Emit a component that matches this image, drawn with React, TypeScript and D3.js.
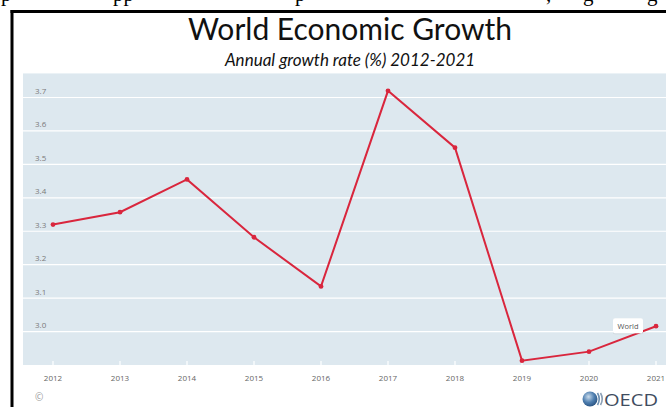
import React from "react";
import * as d3 from "d3";

const years: number[] = [2012, 2013, 2014, 2015, 2016, 2017, 2018, 2019, 2020, 2021];
const growth: number[] = [3.32, 3.357, 3.455, 3.282, 3.135, 3.72, 3.55, 2.913, 2.94, 3.016];
const yTicks: number[] = [3.0, 3.1, 3.2, 3.3, 3.4, 3.5, 3.6, 3.7];
const title = "World Economic Growth";
const subtitle = "Annual growth rate (%) 2012-2021";
const seriesName = "World";
const topFragments: { t: string; x: number }[] = [
  { t: "p", x: 1 },
  { t: "pp", x: 113 },
  { t: "p", x: 295 },
  { t: ",", x: 546 },
  { t: "g", x: 583 },
  { t: "g", x: 647 },
];

const W = 666;
const H = 407;

export default function App() {
  const x = d3.scaleLinear().domain([2012, 2021]).range([53, 656]);
  const y = d3.scaleLinear().domain([2.9, 3.7]).range([365, 97.5]);
  const plotTop = y(3.772);
  const plotBottom = y(2.9);
  const plotLeft = 23;
  const line = d3
    .line<number>()
    .x((_, i) => x(years[i]))
    .y((d) => y(d));
  const red = "#d9263d";
  const last = growth.length - 1;

  return (
    <svg
      width={W}
      height={H}
      style={{ position: "absolute", left: 0, top: 0, background: "#fff" }}
    >
      <defs>
        <radialGradient id="globe" cx="40%" cy="35%" r="70%">
          <stop offset="0%" stopColor="#c9dbeb" />
          <stop offset="55%" stopColor="#4f7fb0" />
          <stop offset="100%" stopColor="#27507e" />
        </radialGradient>
        <filter id="sh" x="-20%" y="-20%" width="140%" height="160%">
          <feDropShadow dx="0" dy="0.5" stdDeviation="0.6" floodColor="#000" floodOpacity="0.2" />
        </filter>
      </defs>
      <rect x={0} y={0} width={W} height={H} fill="#fff" />
      {topFragments.map((f, i) => (
        <text key={i} x={f.x} y={0.5} fontFamily="'Liberation Serif', serif" fontSize={21} fill="#000">
          {f.t}
        </text>
      ))}
      {/* document frame */}
      <line x1={10.5} y1={11.5} x2={W} y2={11.5} stroke="#000" strokeWidth={3} />
      <line x1={12} y1={10} x2={12} y2={H} stroke="#000" strokeWidth={3} />

      <text
        x={350}
        y={40}
        textAnchor="middle"
        fontFamily="Lato, 'Open Sans', sans-serif"
        fontSize={30}
        fill="#111"
      >
        {title}
      </text>
      <text
        x={350}
        y={66}
        textAnchor="middle"
        fontFamily="Lato, 'Open Sans', sans-serif"
        fontStyle="italic"
        fontSize={17}
        fill="#111"
      >
        {subtitle}
      </text>

      <rect x={plotLeft} y={plotTop} width={W - plotLeft} height={plotBottom - plotTop} fill="#dde8ef" />
      {yTicks.map((t) => (
        <g key={t}>
          <line x1={plotLeft} x2={W} y1={y(t)} y2={y(t)} stroke="#fff" strokeWidth={1.2} />
          <text
            x={35}
            y={y(t) - 3.5}
            fontFamily="'Open Sans', sans-serif"
            fontSize={8}
            fill="#7a7a7a"
          >
            {t.toFixed(1)}
          </text>
        </g>
      ))}
      {years.map((yr) => (
        <g key={yr}>
          <line x1={x(yr)} x2={x(yr)} y1={plotBottom - 4} y2={plotBottom} stroke="#fff" strokeWidth={1.2} />
          <text
            x={x(yr)}
            y={381}
            textAnchor="middle"
            fontFamily="'Open Sans', sans-serif"
            fontSize={8}
            fill="#666"
          >
            {yr}
          </text>
        </g>
      ))}

      <path d={line(growth) || ""} fill="none" stroke={red} strokeWidth={2} />
      {growth.map((v, i) => (
        <circle key={i} cx={x(years[i])} cy={y(v)} r={2.4} fill={red} />
      ))}

      <g filter="url(#sh)">
        <rect x={x(years[last]) - 43} y={y(growth[last]) - 8} width={30} height={15} rx={2} fill="#fff" />
      </g>
      <text
        x={x(years[last]) - 28}
        y={y(growth[last]) + 2.5}
        textAnchor="middle"
        fontFamily="'Open Sans', sans-serif"
        fontSize={7.5}
        fill="#555"
      >
        {seriesName}
      </text>

      <text x={35} y={401} fontFamily="'Open Sans', sans-serif" fontSize={10} fill="#999">
        ©
      </text>

      {/* OECD logo */}
      <circle cx={590} cy={399} r={7.5} fill="url(#globe)" />
      <path d="M597.5,393 Q601,399 597.5,405" fill="none" stroke="#6d8fb0" strokeWidth={1.6} />
      <path d="M600.5,393 Q604,399 600.5,405" fill="none" stroke="#8a9fb5" strokeWidth={1.6} />
      <text
        x={604}
        y={405.5}
        fontFamily="'Open Sans', sans-serif"
        fontSize={17}
        fill="#3f4d60"
        textLength={54}
        lengthAdjust="spacingAndGlyphs"
      >
        OECD
      </text>
    </svg>
  );
}
